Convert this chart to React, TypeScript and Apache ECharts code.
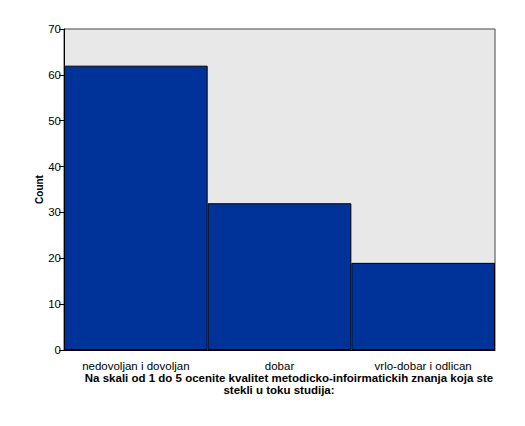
import { useEffect, useRef } from 'react';
import * as echarts from 'echarts';

const categories = ['nedovoljan i dovoljan', 'dobar', 'vrlo-dobar i odlican'];
const counts = [62, 32, 19];
const yTicks = { min: 0, max: 70, interval: 10 };
const xTitle = [
  'Na skali od 1 do 5 ocenite kvalitet metodicko-infoirmatickih znanja koja ste',
  'stekli u toku studija:',
];

const FONT = '"Liberation Sans", Arial, sans-serif';

export default function App() {
  const ref = useRef<HTMLDivElement>(null);

  useEffect(() => {
    if (!ref.current) return;
    const chart = echarts.init(ref.current, undefined, { renderer: 'svg' });

    chart.setOption({
      animation: false,
      backgroundColor: '#fff',
      textStyle: { fontFamily: FONT },
      grid: {
        left: 64,
        top: 29,
        right: 30,
        bottom: 76,
        show: true,
        backgroundColor: '#e8e8e8',
        borderColor: '#444',
        borderWidth: 1,
      },
      xAxis: {
        type: 'category',
        data: categories,
        axisLine: { lineStyle: { color: '#000', width: 1 } },
        axisTick: { alignWithLabel: true, length: 5, lineStyle: { color: '#000' } },
        axisLabel: { color: '#000', fontSize: 11.5, fontFamily: FONT, margin: 10 },
      },
      yAxis: {
        type: 'value',
        ...yTicks,
        name: 'Count',
        nameLocation: 'middle',
        nameGap: 20,
        nameMoveOverlap: false,
        nameTextStyle: { color: '#000', fontSize: 10, fontWeight: 'bold', fontFamily: FONT },
        splitLine: { show: false },
        axisLine: { show: true, lineStyle: { color: '#000', width: 1 } },
        axisTick: { show: true, length: 5, lineStyle: { color: '#000' } },
        axisLabel: { color: '#000', fontSize: 11.5, fontFamily: FONT, margin: 3 },
      },
      graphic: xTitle.map((line, i) => ({
        type: 'text',
        x: i === 0 ? 289 : 279,
        y: 378 + i * 12,
        style: {
          text: line,
          fill: '#000',
          font: `bold 11.5px ${FONT}`,
          textAlign: 'center',
          textVerticalAlign: 'middle',
        },
      })),
      series: [
        {
          type: 'bar',
          data: counts,
          barCategoryGap: '0%',
          itemStyle: { color: '#003399', borderColor: '#000', borderWidth: 1 },
        },
      ],
    });

    return () => chart.dispose();
  }, []);

  return (
    <div
      ref={ref}
      style={{ position: 'fixed', left: 0, top: 0, width: 525, height: 426 }}
    />
  );
}
